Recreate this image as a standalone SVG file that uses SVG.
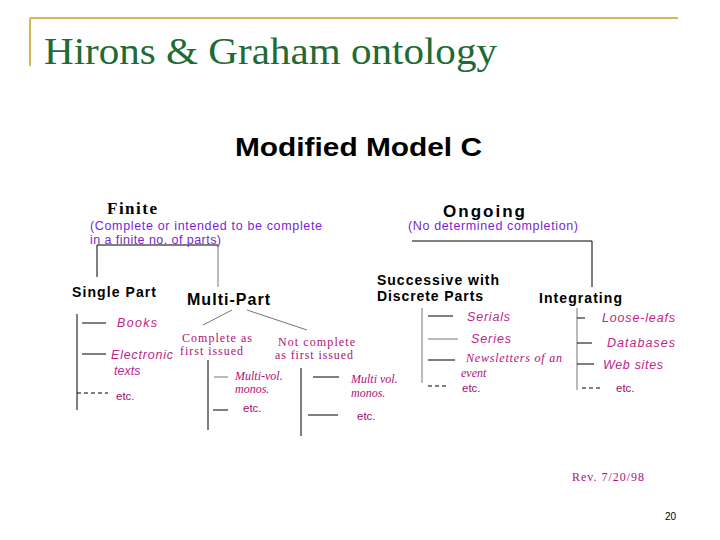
<svg xmlns="http://www.w3.org/2000/svg" width="720" height="540" viewBox="0 0 720 540">
<style>
.t{font-family:"Liberation Sans",Arial,sans-serif;font-weight:bold;fill:#000}
.p{font-family:"Liberation Sans",Arial,sans-serif;font-size:12.5px;fill:#7a1fd6}
.m{font-family:"Liberation Sans",Arial,sans-serif;font-style:italic;font-size:12.5px;fill:#c0268a}
.ms{font-family:"Liberation Serif","Times New Roman",serif;font-size:12px;fill:#b0107a}
.msi{font-family:"Liberation Serif","Times New Roman",serif;font-style:italic;font-size:12px;fill:#b0107a}
.e{font-family:"Liberation Sans",Arial,sans-serif;font-size:11.5px;fill:#a0106e}
line{stroke:#000;stroke-width:1}
.d{stroke-dasharray:4,3}
.g{stroke:#777}
</style>
<rect width="720" height="540" fill="#fff"/>
<g id="frame">
<line x1="30" y1="18" x2="678" y2="18" style="stroke:#c8a020;stroke-width:1.5"/>
<line x1="30" y1="18" x2="30" y2="66" style="stroke:#c8a020;stroke-width:1.5"/>
<text x="44" y="64" font-family="Liberation Serif,serif" font-size="37" fill="#1e6b33" textLength="453" lengthAdjust="spacingAndGlyphs">Hirons &amp; Graham ontology</text>
<text x="235" y="156" font-family="Liberation Sans,Arial,sans-serif" font-weight="bold" font-size="25" textLength="247" lengthAdjust="spacingAndGlyphs">Modified Model C</text>
</g>
<g id="connectors">
<line x1="97" y1="245" x2="218" y2="245"/>
<line x1="97" y1="245" x2="97" y2="277"/>
<line x1="218" y1="245" x2="218" y2="287" class="g"/>
<line x1="77" y1="314" x2="77" y2="410"/>
<line x1="82" y1="323" x2="106" y2="323"/>
<line x1="82" y1="354" x2="106" y2="354"/>
<line x1="77" y1="393" x2="108" y2="393" class="d"/>
<line x1="232" y1="310" x2="203" y2="325" class="g"/>
<line x1="247" y1="310" x2="307" y2="330" class="g"/>
<line x1="208" y1="360" x2="208" y2="430"/>
<line x1="214" y1="377" x2="228" y2="377" class="g"/>
<line x1="213" y1="410" x2="228" y2="410"/>
<line x1="301" y1="368" x2="301" y2="436"/>
<line x1="313" y1="377" x2="339" y2="377"/>
<line x1="308" y1="415" x2="338" y2="415"/>
<line x1="412" y1="241" x2="592" y2="241"/>
<line x1="592" y1="241" x2="592" y2="287"/>
<line x1="422" y1="308" x2="422" y2="383" class="g"/>
<line x1="428" y1="316" x2="453" y2="316"/>
<line x1="428" y1="339" x2="458" y2="339" class="g"/>
<line x1="428" y1="360" x2="455" y2="360"/>
<line x1="428" y1="386" x2="447" y2="386" class="d"/>
<line x1="577" y1="308" x2="577" y2="390" class="g"/>
<line x1="577" y1="318" x2="585" y2="318"/>
<line x1="577" y1="343" x2="592" y2="343"/>
<line x1="577" y1="364" x2="594" y2="364"/>
<line x1="582" y1="388" x2="600" y2="388" class="d"/>
</g>
<g id="finite">
<text x="107" y="214" font-family="Liberation Serif,serif" font-weight="bold" font-size="17" textLength="50">Finite</text>
<text x="90" y="230" class="p" textLength="232">(Complete or intended to be complete</text>
<text x="90" y="244" class="p" textLength="131">in a finite no. of parts)</text>
</g>
<g id="single"><text x="72" y="297" class="t" font-size="14" textLength="84">Single Part</text>
<text x="117" y="327" class="m" textLength="40">Books</text><text x="111" y="359" class="m" textLength="62">Electronic</text><text x="114" y="375" class="m">texts</text><text x="116" y="400" class="e">etc.</text></g>
<g id="multi"><text x="187" y="305" class="t" font-size="16" textLength="83">Multi-Part</text></g>
<g id="complete"><text x="182" y="342" class="ms" textLength="70">Complete as</text><text x="180" y="355" class="ms" textLength="63">first issued</text>
<text x="235" y="380" class="msi">Multi-vol.</text><text x="235" y="393" class="msi">monos.</text><text x="243" y="412" class="e">etc.</text></g>
<g id="notcomplete"><text x="278" y="346" class="ms" textLength="77">Not complete</text><text x="275" y="359" class="ms" textLength="78">as first issued</text>
<text x="351" y="383" class="msi">Multi vol.</text><text x="351" y="397" class="msi">monos.</text><text x="357" y="420" class="e">etc.</text></g>
<g id="ongoing"><text x="443" y="217" class="t" font-size="17" textLength="82">Ongoing</text><text x="408" y="230" class="p" textLength="170">(No determined completion)</text></g>
<g id="successive"><text x="377" y="285" class="t" font-size="14" textLength="122">Successive with</text><text x="377" y="301" class="t" font-size="14" textLength="106">Discrete Parts</text>
<text x="467" y="321" class="m" textLength="43">Serials</text><text x="471" y="343" class="m" textLength="40">Series</text><text x="466" y="362" class="msi" font-size="11" textLength="96">Newsletters of an</text><text x="461" y="377" class="msi" font-size="11">event</text><text x="462" y="392" class="e">etc.</text></g>
<g id="integrating"><text x="539" y="303" class="t" font-size="14" textLength="83">Integrating</text>
<text x="602" y="322" class="m" textLength="73">Loose-leafs</text><text x="607" y="347" class="m" textLength="68">Databases</text><text x="603" y="369" class="m" textLength="60">Web sites</text><text x="616" y="392" class="e">etc.</text></g>
<text x="572" y="481" class="ms" textLength="72">Rev. 7/20/98</text>
<text x="665" y="520" font-family="Liberation Sans,sans-serif" font-size="10">20</text>
</svg>
